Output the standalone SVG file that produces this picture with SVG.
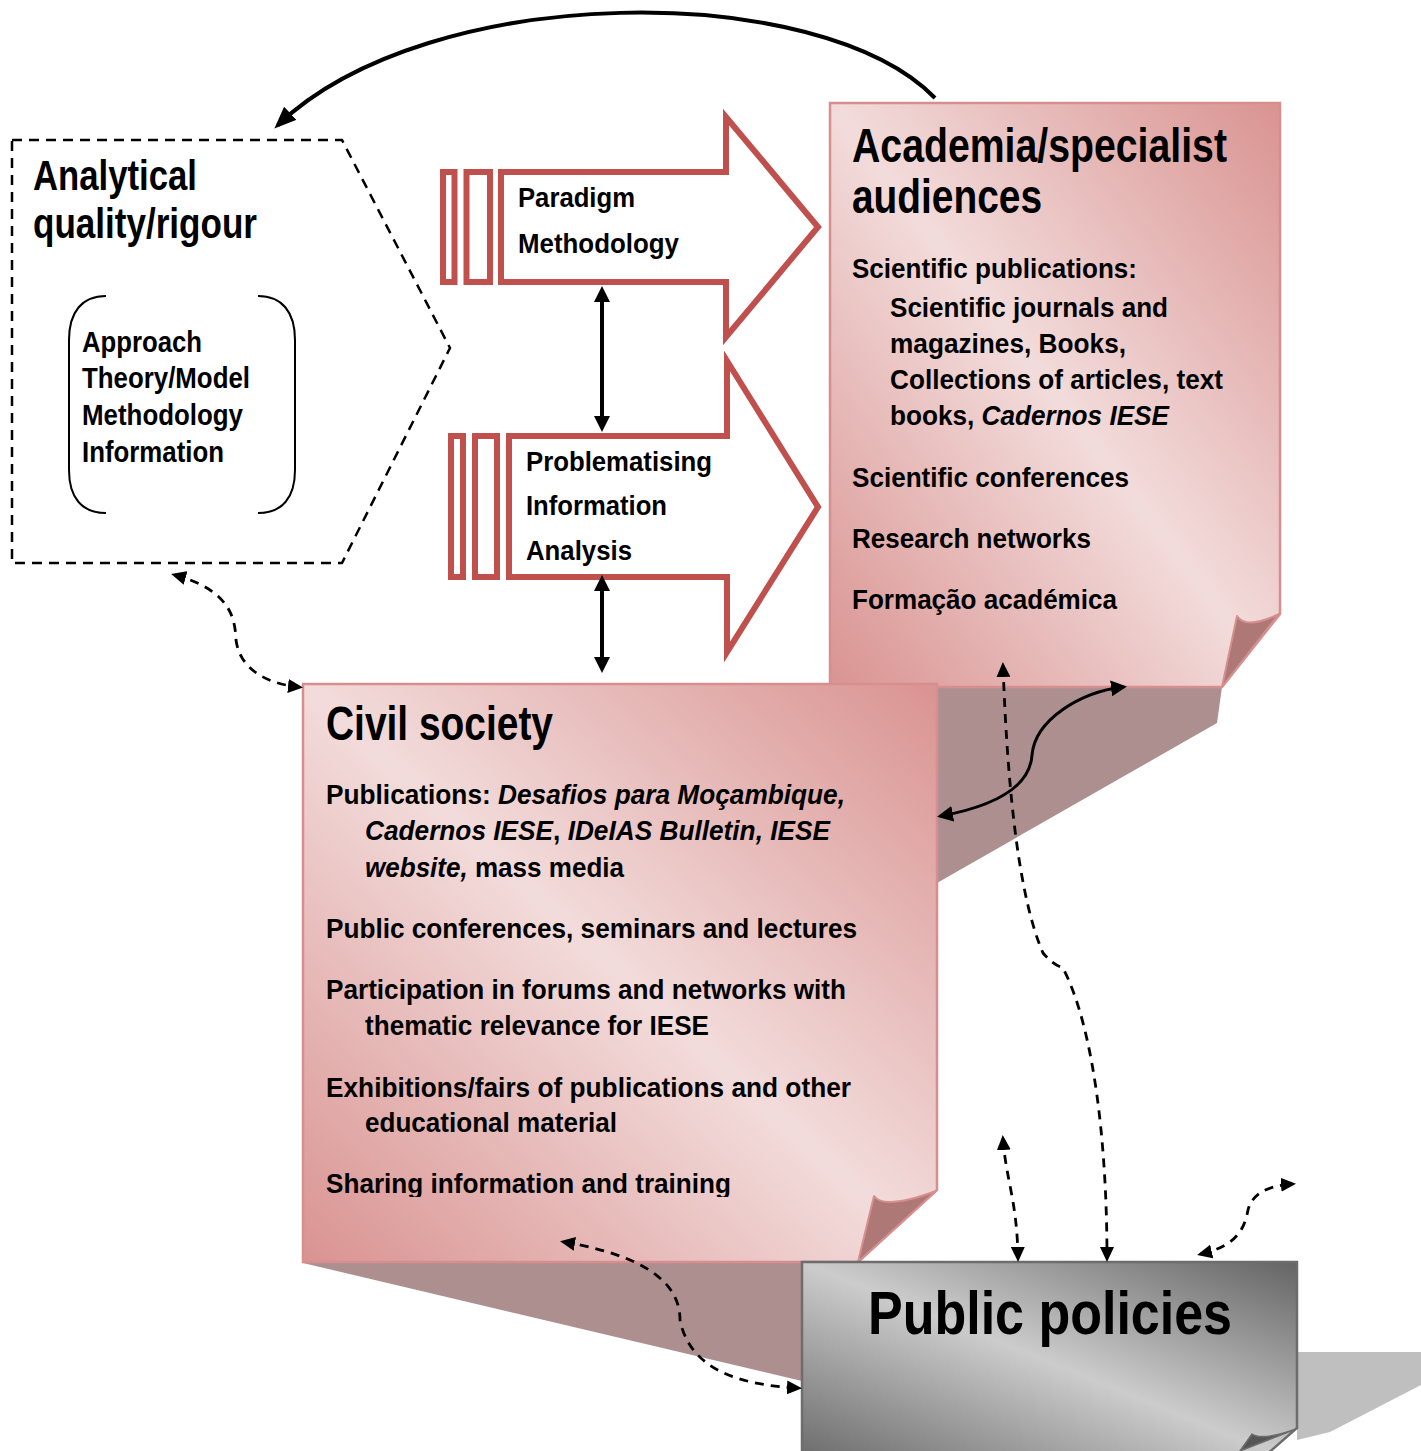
<svg xmlns="http://www.w3.org/2000/svg" width="1421" height="1451" viewBox="0 0 1421 1451">
  <style>
    .t { font-family: "Liberation Sans Narrow", "Arial Narrow", "Liberation Sans", Arial, sans-serif; font-weight: bold; fill: #000; }
    .body { font-size: 27px; }
    .title { font-size: 48px; }
    .it { font-style: italic; }
    .page { stroke-width: 2.5; }
    .pinkpage { stroke: #d68f8e; }
    .shadow { fill: #ad8f90; }
    .curl { fill: #ae7876; stroke: #d68f8e; stroke-width: 2; stroke-linejoin: round; }
    .redarrow { fill: #fff; stroke: #c0504d; stroke-width: 6; }
    .solid { fill: none; stroke: #000; }
    .dash { fill: none; stroke: #000; stroke-width: 2.8; stroke-dasharray: 9 7; }
  </style>
  <defs>
    <linearGradient id="pinkGrad" x1="1" y1="0" x2="0" y2="1">
      <stop offset="0" stop-color="#d99391"/>
      <stop offset="0.5" stop-color="#f2dcdb"/>
      <stop offset="1" stop-color="#d99391"/>
    </linearGradient>
    <linearGradient id="greyGrad" x1="1" y1="0" x2="0" y2="1">
      <stop offset="0" stop-color="#646464"/>
      <stop offset="0.5" stop-color="#cccccc"/>
      <stop offset="1" stop-color="#6a6a6a"/>
    </linearGradient>
    <marker id="headBig" viewBox="0 0 22 18" markerWidth="22" markerHeight="18" refX="17" refY="9" orient="auto-start-reverse" markerUnits="userSpaceOnUse">
      <path d="M0,0 L22,9 L0,18 Z" fill="#000"/>
    </marker>
    <marker id="headMid" viewBox="0 0 16 16" markerWidth="16" markerHeight="16" refX="12" refY="8" orient="auto-start-reverse" markerUnits="userSpaceOnUse">
      <path d="M0,0 L16,8 L0,16 Z" fill="#000"/>
    </marker>
    <marker id="headDash" viewBox="0 0 15 14" markerWidth="15" markerHeight="14" refX="11" refY="7" orient="auto-start-reverse" markerUnits="userSpaceOnUse">
      <path d="M0,0 L15,7 L0,14 Z" fill="#000"/>
    </marker>
    <clipPath id="civilClip">
      <rect x="300" y="680" width="640" height="517"/>
    </clipPath>
  </defs>

  <!-- Academia / specialist audiences page -->
  <g id="academia">
    <polygon class="shadow" points="830,687 1222,687 1217,723 937,883 830,883"/>
    <path class="page pinkpage" d="M830,103 H1280 V614 L1222,687 H830 Z" fill="url(#pinkGrad)"/>
    <path class="curl" d="M1222,687 L1237,616 Q1246,630 1279,614 Z"/>
    <text class="t title" x="852" y="162" textLength="375" lengthAdjust="spacingAndGlyphs">Academia/specialist</text>
    <text class="t title" x="852" y="213" textLength="190" lengthAdjust="spacingAndGlyphs">audiences</text>
    <text class="t body" x="852" y="278" textLength="285" lengthAdjust="spacingAndGlyphs">Scientific publications:</text>
    <text class="t body" x="890" y="317" textLength="278" lengthAdjust="spacingAndGlyphs">Scientific journals and</text>
    <text class="t body" x="890" y="353" textLength="236" lengthAdjust="spacingAndGlyphs">magazines, Books,</text>
    <text class="t body" x="890" y="389" textLength="333" lengthAdjust="spacingAndGlyphs">Collections of articles, text</text>
    <text class="t body" x="890" y="425" textLength="279" lengthAdjust="spacingAndGlyphs">books, <tspan class="it">Cadernos IESE</tspan></text>
    <text class="t body" x="852" y="487" textLength="277" lengthAdjust="spacingAndGlyphs">Scientific conferences</text>
    <text class="t body" x="852" y="548" textLength="239" lengthAdjust="spacingAndGlyphs">Research networks</text>
    <text class="t body" x="852" y="609" textLength="265" lengthAdjust="spacingAndGlyphs">Formação académica</text>
  </g>

  <!-- Civil society page -->
  <g id="civil-society">
    <polygon class="shadow" points="303,1263 858,1263 850,1400 802,1381"/>
    <path class="page pinkpage" d="M303,684 H937 V1190 L858,1262 H303 Z" fill="url(#pinkGrad)"/>
    <path class="curl" d="M858,1262 L874,1196 Q884,1210 936,1191 Z"/>
    <text class="t title" x="326" y="740" textLength="227" lengthAdjust="spacingAndGlyphs">Civil society</text>
    <text class="t body" x="326" y="804" textLength="519" lengthAdjust="spacingAndGlyphs">Publications: <tspan class="it">Desafios para Moçambique,</tspan></text>
    <text class="t body" x="365" y="840" textLength="465" lengthAdjust="spacingAndGlyphs"><tspan class="it">Cadernos IESE</tspan>, <tspan class="it">IDeIAS Bulletin, IESE</tspan></text>
    <text class="t body" x="365" y="877" textLength="259" lengthAdjust="spacingAndGlyphs"><tspan class="it">website,</tspan> mass media</text>
    <text class="t body" x="326" y="938" textLength="531" lengthAdjust="spacingAndGlyphs">Public conferences, seminars and lectures</text>
    <text class="t body" x="326" y="999" textLength="520" lengthAdjust="spacingAndGlyphs">Participation in forums and networks with</text>
    <text class="t body" x="365" y="1035" textLength="344" lengthAdjust="spacingAndGlyphs">thematic relevance for IESE</text>
    <text class="t body" x="326" y="1097" textLength="525" lengthAdjust="spacingAndGlyphs">Exhibitions/fairs of publications and other</text>
    <text class="t body" x="365" y="1132" textLength="252" lengthAdjust="spacingAndGlyphs">educational material</text>
    <text class="t body" x="326" y="1193" textLength="405" lengthAdjust="spacingAndGlyphs" clip-path="url(#civilClip)">Sharing information and training</text>
  </g>

  <!-- Public policies page -->
  <g id="public-policies">
    <polygon fill="#bfbfbf" points="1297,1352 1421,1352 1421,1385 1330,1432 1297,1440"/>
    <path class="page" d="M802,1262 H1297 V1428 L1258,1462 H802 Z" fill="url(#greyGrad)" stroke="#6d6d6d"/>
    <path d="M1240,1451 L1252,1434 Q1262,1441 1296,1429 Z" fill="#555" stroke="#6d6d6d" stroke-width="1.5"/>
    <text class="t" font-size="62" x="868" y="1334" textLength="364" lengthAdjust="spacingAndGlyphs">Public policies</text>
  </g>

  <!-- Analytical quality hexagon -->
  <g id="analytical-quality">
    <path d="M12,140 H342 L450,348 L342,563 H12 Z" fill="none" stroke="#000" stroke-width="2.5" stroke-dasharray="10 7"/>
    <text class="t" font-size="42" x="33" y="190" textLength="164" lengthAdjust="spacingAndGlyphs">Analytical</text>
    <text class="t" font-size="42" x="33" y="238" textLength="224" lengthAdjust="spacingAndGlyphs">quality/rigour</text>
    <path d="M106,296 C82,296 69,312 69,340 V470 C69,498 82,513 106,513" fill="none" stroke="#000" stroke-width="2"/>
    <path d="M258,296 C282,296 295,312 295,340 V470 C295,498 282,513 258,513" fill="none" stroke="#000" stroke-width="2"/>
    <text class="t" font-size="30" x="82" y="352" textLength="120" lengthAdjust="spacingAndGlyphs">Approach</text>
    <text class="t" font-size="30" x="82" y="388" textLength="168" lengthAdjust="spacingAndGlyphs">Theory/Model</text>
    <text class="t" font-size="30" x="82" y="425" textLength="161" lengthAdjust="spacingAndGlyphs">Methodology</text>
    <text class="t" font-size="30" x="82" y="462" textLength="142" lengthAdjust="spacingAndGlyphs">Information</text>
  </g>

  <!-- Paradigm / Methodology striped arrow -->
  <g id="paradigm-arrow">
    <rect class="redarrow" x="443" y="172" width="11.5" height="110"/>
    <rect class="redarrow" x="466.5" y="172" width="23.5" height="110"/>
    <path class="redarrow" d="M501,172 H726 V117 L818,227 L726,337 V282 H501 Z"/>
    <text class="t body" x="518" y="207" textLength="117" lengthAdjust="spacingAndGlyphs">Paradigm</text>
    <text class="t body" x="518" y="253" textLength="161" lengthAdjust="spacingAndGlyphs">Methodology</text>
  </g>

  <!-- Problematising / Information / Analysis striped arrow -->
  <g id="problematising-arrow">
    <rect class="redarrow" x="451" y="436" width="12" height="141"/>
    <rect class="redarrow" x="475" y="436" width="22" height="141"/>
    <path class="redarrow" d="M509,436 H727 V361 L818,507 L727,652 V577 H509 Z"/>
    <text class="t body" x="526" y="471" textLength="186" lengthAdjust="spacingAndGlyphs">Problematising</text>
    <text class="t body" x="526" y="515" textLength="141" lengthAdjust="spacingAndGlyphs">Information</text>
    <text class="t body" x="526" y="560" textLength="106" lengthAdjust="spacingAndGlyphs">Analysis</text>
  </g>

  <!-- Connectors -->
  <g id="connectors">
    <path class="solid" stroke-width="4" d="M935,98 C820,-20 430,-20 278,125" marker-end="url(#headBig)"/>
    <path class="solid" stroke-width="4" d="M602,290 V428" marker-start="url(#headMid)" marker-end="url(#headMid)"/>
    <path class="solid" stroke-width="4" d="M602,579 V669" marker-start="url(#headMid)" marker-end="url(#headMid)"/>
    <path class="solid" stroke-width="3" d="M941,816 C1000,805 1030,785 1032,755 C1035,720 1080,692 1123,687" marker-start="url(#headMid)" marker-end="url(#headMid)"/>
    <path class="dash" d="M175,575 C228,590 235,615 236,640 C240,670 268,684 299,687" marker-start="url(#headDash)" marker-end="url(#headDash)"/>
    <path class="dash" d="M1003,666 C1008,800 1020,900 1043,953 Q1052,964 1063,968 C1095,1030 1107,1150 1107,1258" marker-start="url(#headDash)" marker-end="url(#headDash)"/>
    <path class="dash" d="M1003,1139 C1006,1180 1017,1200 1018,1258" marker-start="url(#headDash)" marker-end="url(#headDash)"/>
    <path class="dash" d="M1201,1254 C1240,1245 1245,1225 1248,1210 C1252,1195 1265,1186 1292,1184" marker-start="url(#headDash)" marker-end="url(#headDash)"/>
    <path class="dash" d="M564,1242 C640,1255 680,1280 680,1320 C690,1370 740,1385 798,1388" marker-start="url(#headDash)" marker-end="url(#headDash)"/>
  </g>
</svg>
